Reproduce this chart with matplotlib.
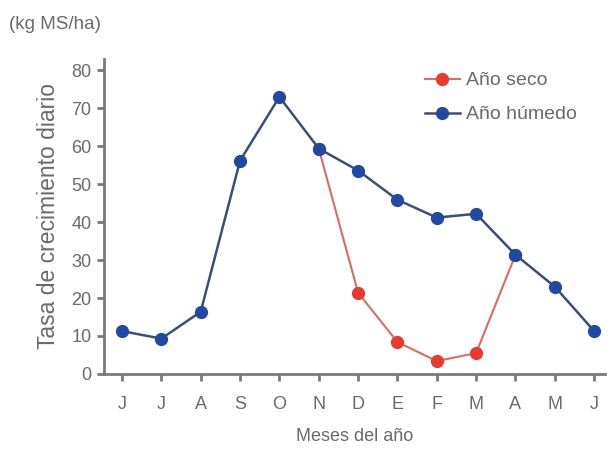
import matplotlib
matplotlib.use("Agg")
import matplotlib.pyplot as plt

plt.rcParams['font.family'] = ['Liberation Sans', 'DejaVu Sans']

months = ["J", "J", "A", "S", "O", "N", "D", "E", "F", "M", "A", "M", "J"]
humid = [11.3, 9.3, 16.4, 56.2, 73.0, 59.4, 53.6, 45.9, 41.2, 42.2, 31.4, 23.0, 11.3]
dry_months_idx = [5, 6, 7, 8, 9, 10]
dry = [59.4, 21.4, 8.4, 3.4, 5.5, 31.4]

text_c = "#6a6a6a"
axis_c = "#7a7a7a"
blue_line = "#3a4f78"
blue_mk = "#2149a3"
red_line = "#e06a63"
red_mk = "#ea3a30"

fig = plt.figure(figsize=(6.15, 4.5), dpi=100)
ax = fig.add_axes([0.169, 0.169, 0.815, 0.70])

x = list(range(len(months)))
ax.plot(dry_months_idx, dry, color=red_line, lw=1.5, marker="o", ms=8.5,
        mfc=red_mk, mec=red_mk, label="Año seco", zorder=3)
ax.plot(x, humid, color=blue_line, lw=1.8, marker="o", ms=8.5,
        mfc=blue_mk, mec=blue_mk, label="Año húmedo", zorder=4)

ax.set_xlim(-0.46, 12.28)
ax.set_ylim(0, 83)
ax.set_xticks(x)
ax.set_xticklabels(months)
ax.set_yticks(range(0, 81, 10))

for s in ["top", "right"]:
    ax.spines[s].set_visible(False)
for s in ["left", "bottom"]:
    ax.spines[s].set_color(axis_c)
    ax.spines[s].set_linewidth(2)

ax.tick_params(axis="both", colors=axis_c, labelcolor=text_c, labelsize=13,
               width=2, length=5)
ax.tick_params(axis="x", pad=11)
ax.tick_params(axis="y", pad=4)

ax.set_ylabel("Tasa de crecimiento diario", color=text_c, fontsize=16.5, labelpad=8)
ax.set_xlabel("Meses del año", color=text_c, fontsize=13, labelpad=11)
fig.text(0.015, 0.945, "(kg MS/ha)", color=text_c, fontsize=13.5, ha="left", va="center")

leg = ax.legend(loc="upper left", bbox_to_anchor=(0.605, 1.015), frameon=False,
                fontsize=14, handlelength=1.8, handletextpad=0.3, labelspacing=0.85)
for t in leg.get_texts():
    t.set_color(text_c)

fig.savefig("out.png", dpi=100)
